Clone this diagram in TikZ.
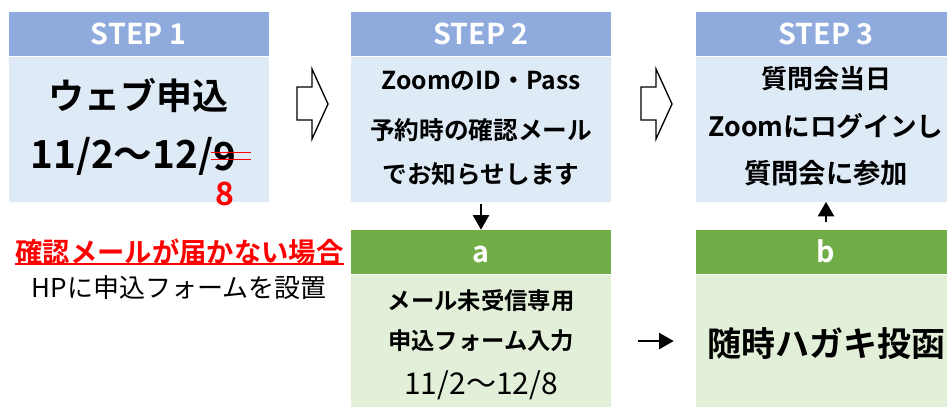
\documentclass[tikz,border=0pt]{standalone}
\usepackage{fontspec}
\setmainfont{Noto Sans CJK JP}[BoldFont=Noto Sans CJK JP Bold]
\usetikzlibrary{positioning}
\usetikzlibrary{calc}
\usetikzlibrary{arrows.meta}
\definecolor{headblue}{HTML}{8FAADC}
\definecolor{bodyblue}{HTML}{DEEBF7}
\definecolor{headgreen}{HTML}{70AD47}
\definecolor{bodygreen}{HTML}{E2F0D9}
\tikzset{
    stephead/.style = {rectangle,fill=headblue,text=white,inner sep=0pt,minimum width=195pt,minimum height=33pt,text height=15.5pt,text depth=0pt,font=\bfseries\fontsize{21.5}{24}\selectfont},
    stepbody/.style = {rectangle,fill=bodyblue,inner sep=0pt,minimum width=195pt,minimum height=108.75pt},
    althead/.style = {stephead,fill=headgreen},
    altbody/.style = {stepbody,fill=bodygreen,minimum height=99.75pt},
    bodytext/.style = {inner sep=0pt,font=\bfseries\fontsize{18.5}{22}\selectfont},
    bigtext/.style = {inner sep=0pt,font=\bfseries\fontsize{27}{32}\selectfont},
    flow/.style = {line width=1.9pt,-{Triangle[width=12pt,length=11pt]}},
    hollow/.style = {draw=black,fill=white,line width=1pt,line join=miter},
    strike/.style = {draw=red,line width=1.3pt}}
\begin{document}
\begin{tikzpicture}[x=0.75pt,y=-0.75pt]
        \useasboundingbox (0,0) rectangle (947,407);
        \clip (0,0) rectangle (947,407);
        % step boxes
        \node[stephead] (s1head) at (138.5,34) {STEP 1};
        \node[stepbody,below=0pt of s1head] (s1body) {};
        \node[stephead] (s2head) at (481,34) {STEP 2};
        \node[stepbody,below=0pt of s2head] (s2body) {};
        \node[stephead] (s3head) at (826,34) {STEP 3};
        \node[stepbody,below=0pt of s3head] (s3body) {};
        \node[althead] (ahead) at (481,252) {a};
        \node[altbody,below=0pt of ahead] (abody) {};
        \node[althead] (bhead) at (826,252) {b};
        \node[altbody,below=0pt of bhead] (bbody) {};
        % step 1
        \path (s1body.center) + (0,-33.5) node[bigtext] (s1l1) {ウェブ申込}
        + (75,27.5) node[bigtext,anchor=east,font=\bfseries\fontsize{29}{32}\selectfont] (s1date) {11/2〜12/};
        \node[bigtext,right=0pt of s1date,font=\bfseries\fontsize{29}{32}\selectfont] (s1nine) {9};
        \path (s1nine.center) ++(0,37) node[bigtext,text=red,font=\bfseries\fontsize{24}{28}\selectfont] (s1eight) {8};
        \draw[strike] ($(s1nine.west)+(-3,-4)$) -- ($(s1nine.east)+(14,-4)$);
        \draw[strike] ($(s1nine.west)+(-3,3)$) -- ($(s1nine.east)+(14,3)$);
        % step 2
        \path (s2body.center) + (0,-48.5) node[bodytext] (s2l1) {ZoomのID・Pass}
        + (0,1.5) node[bodytext] (s2l2) {予約時の確認メール}
        + (0,45.5) node[bodytext] (s2l3) {でお知らせします};
        % step 3
        \path (s3body.center) + (0,-50.5) node[bodytext,font=\bfseries\fontsize{19.5}{22}\selectfont] (s3l1) {質問会当日}
        + (0,-2.5) node[bodytext,font=\bfseries\fontsize{20}{22}\selectfont] (s3l2) {Zoomにログインし}
        + (0,44.5) node[bodytext,font=\bfseries\fontsize{20.5}{22}\selectfont] (s3l3) {質問会に参加};
        % a and b
        \path (abody.center) + (0,-40.5) node[bodytext,font=\bfseries\fontsize{17.5}{21}\selectfont] (al1) {メール未受信専用}
        + (0,-0.5) node[bodytext,font=\bfseries\fontsize{17.5}{21}\selectfont] (al2) {申込フォーム入力}
        + (0,44.5) node[bodytext,font=\fontsize{22.5}{26}\selectfont] (al3) {11/2〜12/8};
        \path (bbody.center) + (0,2.5) node[bodytext,font=\bfseries\fontsize{25.5}{30}\selectfont] (bl1) {随時ハガキ投函};
        % note on the left
        \node[inner sep=0pt,text=red,font=\bfseries\fontsize{20.5}{24}\selectfont] (note) at (179.5,252) {確認メールが届かない場合};
        \draw[red,line width=1.5pt] ($(note.south west)+(0,-1.5)$) -- ($(note.south east)+(0,-1.5)$);
        \node[inner sep=0pt,font=\fontsize{19.5}{24}\selectfont] (hp) at (179,288) {HPに申込フォームを設置};
        % arrows
        \foreach \hx in {297,641}
            \draw[hollow] (\hx,87) -- (\hx+15,87) -- (\hx+15,69) -- (\hx+31,104) -- (\hx+15,139) -- (\hx+15,120) -- (\hx,120) -- cycle;
        \draw[flow,shorten <=1.5pt] (s2body.south) -- (ahead.north);
        \draw[flow,shorten <=5.5pt] (bhead.north) -- (s3body.south);
        \draw[flow,shorten <=20pt,shorten >=16.5pt] (abody.east) -- (bbody.west);
\end{tikzpicture}
\end{document}
